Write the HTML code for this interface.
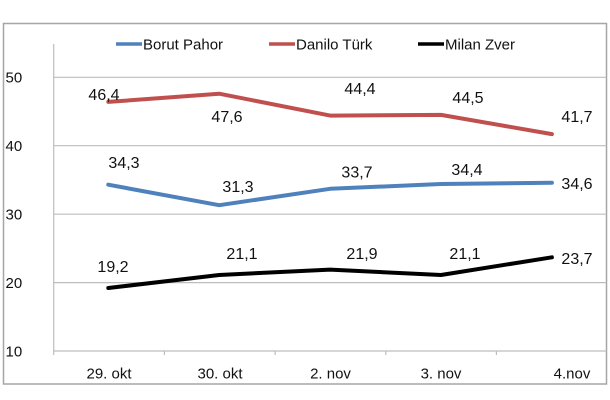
<!DOCTYPE html>
<html>
<head>
<meta charset="utf-8">
<style>
  html,body{margin:0;padding:0;background:#fff;}
  body{width:610px;height:400px;overflow:hidden;}
  svg{display:block;}
  text{font-family:"Liberation Sans",sans-serif;font-size:15px;fill:#111;}
  .dl{font-size:16px;}
</style>
</head>
<body>
<svg width="610" height="400" viewBox="0 0 610 400" xmlns="http://www.w3.org/2000/svg">
  <rect x="0" y="0" width="610" height="400" fill="#fff"/>
  <!-- outer border -->
  <rect x="3.5" y="23.5" width="603" height="360.5" fill="none" stroke="#a6a6a6" stroke-width="1.5"/>

  <!-- gridlines -->
  <g stroke="#bdbdbd" stroke-width="1.2">
    <line x1="53.7" y1="77.3" x2="606.5" y2="77.3"/>
    <line x1="53.7" y1="145.7" x2="606.5" y2="145.7"/>
    <line x1="53.7" y1="214.2" x2="606.5" y2="214.2"/>
    <line x1="53.7" y1="282.6" x2="606.5" y2="282.6"/>
    <line x1="53.7" y1="351" x2="606.5" y2="351"/>
  </g>
  <!-- y axis -->
  <line x1="53.7" y1="44" x2="53.7" y2="355" stroke="#bdbdbd" stroke-width="1.2"/>
  <!-- x ticks -->
  <g stroke="#bdbdbd" stroke-width="1.2">
    <line x1="164.4" y1="351" x2="164.4" y2="355"/>
    <line x1="275.1" y1="351" x2="275.1" y2="355"/>
    <line x1="385.8" y1="351" x2="385.8" y2="355"/>
    <line x1="496.4" y1="351" x2="496.4" y2="355"/>
  </g>

  <!-- y labels -->
  <text x="5.5" y="82.5">50</text>
  <text x="5.5" y="151">40</text>
  <text x="5.5" y="219.5">30</text>
  <text x="5.5" y="288">20</text>
  <text x="5.5" y="356.5">10</text>

  <!-- x labels -->
  <text x="109" y="378.5" text-anchor="middle">29. okt</text>
  <text x="220" y="378.5" text-anchor="middle">30. okt</text>
  <text x="330.5" y="378.5" text-anchor="middle">2. nov</text>
  <text x="441" y="378.5" text-anchor="middle">3. nov</text>
  <text x="572" y="378.5" text-anchor="middle">4.nov</text>

  <!-- legend -->
  <line x1="116" y1="44" x2="142" y2="44" stroke="#4f81bd" stroke-width="3.5"/>
  <text x="143" y="49.5">Borut Pahor</text>
  <line x1="269" y1="44" x2="295" y2="44" stroke="#c0504d" stroke-width="3.5"/>
  <text x="296" y="49.5">Danilo Türk</text>
  <line x1="418" y1="44" x2="444" y2="44" stroke="#000" stroke-width="3.5"/>
  <text x="445" y="49.5">Milan Zver</text>

  <!-- series -->
  <polyline fill="none" stroke="#c0504d" stroke-width="4" stroke-linejoin="round" stroke-linecap="round"
    points="108.3,101.9 219.2,93.7 330.1,115.6 441,114.9 551.9,134.1"/>
  <polyline fill="none" stroke="#4f81bd" stroke-width="4" stroke-linejoin="round" stroke-linecap="round"
    points="108.3,184.7 219.2,205.2 330.1,188.8 441,184.0 551.9,182.7"/>
  <polyline fill="none" stroke="#000" stroke-width="4" stroke-linejoin="round" stroke-linecap="round"
    points="108.3,288.0 219.2,275.0 330.1,269.6 441,275.0 551.9,257.3"/>

  <!-- data labels: Danilo -->
  <g class="dl">
  <text class="dl" x="104" y="100" text-anchor="middle">46,4</text>
  <text class="dl" x="227" y="122" text-anchor="middle">47,6</text>
  <text class="dl" x="360" y="94" text-anchor="middle">44,4</text>
  <text class="dl" x="468" y="103" text-anchor="middle">44,5</text>
  <text class="dl" x="577" y="122" text-anchor="middle">41,7</text>
  <!-- Borut -->
  <text class="dl" x="124" y="168" text-anchor="middle">34,3</text>
  <text class="dl" x="238" y="192" text-anchor="middle">31,3</text>
  <text class="dl" x="357" y="177.5" text-anchor="middle">33,7</text>
  <text class="dl" x="467" y="175" text-anchor="middle">34,4</text>
  <text class="dl" x="577" y="189" text-anchor="middle">34,6</text>
  <!-- Milan -->
  <text class="dl" x="113" y="272" text-anchor="middle">19,2</text>
  <text class="dl" x="242" y="259" text-anchor="middle">21,1</text>
  <text class="dl" x="362" y="259" text-anchor="middle">21,9</text>
  <text class="dl" x="465" y="259" text-anchor="middle">21,1</text>
  <text class="dl" x="577" y="264" text-anchor="middle">23,7</text>
  </g>
</svg>
</body>
</html>
